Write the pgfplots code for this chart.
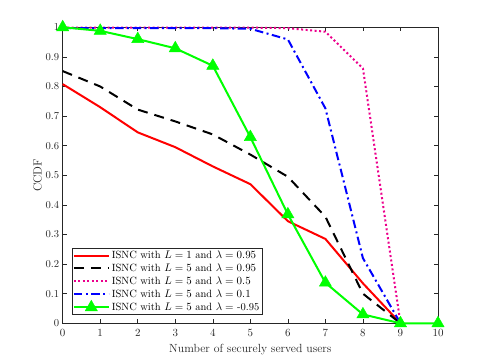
\documentclass[border=0pt]{standalone}
\usepackage{pgfplots}
\pgfplotsset{compat=1.18}
\definecolor{axgray}{rgb}{0.15,0.15,0.15}
\begin{document}
\begin{tikzpicture}[x=1pt,y=1pt]
\path (0,0) rectangle (485,363);
\begin{axis}[
  at={(62.7pt,39.7pt)}, anchor=south west,
  scale only axis, width=375.3pt, height=296pt,
  xmin=0, xmax=10, ymin=0, ymax=1,
  xtick={0,1,...,10}, ytick={0,0.1,...,1},
  yticklabels={0,0.1,0.2,0.3,0.4,0.5,0.6,0.7,0.8,0.9,1},
  tick align=inside, tick pos=both,
  major tick length=4pt,
  axis line style={axgray, line width=0.6pt},
  every tick/.style={axgray, line width=0.6pt},
  tick label style={font=\fontsize{10.6}{12}\selectfont, text=axgray},
  xticklabel style={yshift=-2.5pt},
  xlabel={Number of securely served users},
  ylabel={CCDF},
  label style={font=\fontsize{11.8}{13}\selectfont, text=axgray},
  xlabel style={yshift=-0.5pt},
  ylabel style={yshift=-3pt},
  legend style={at={(0.024,0.028)}, anchor=south west, draw=axgray, line width=0.6pt,
    font=\fontsize{10.5}{12}\selectfont, inner sep=0.8pt, row sep=-0.3pt, cells={anchor=west}},
  legend cell align=left,
  legend image code/.code={\draw[#1] (0pt,0pt) -- (35pt,0pt) plot coordinates {(17.5pt,0pt)};},
  clip=false,
]
\addplot[red, line width=2pt] coordinates {
(0,0.808) (1,0.73) (2,0.645) (3,0.595) (4,0.53) (5,0.47) (6,0.345) (7,0.285) (8,0.135) (9,0)};
\addlegendentry{ISNC with $L=1$ and $\lambda=0.95$}
\addplot[black, line width=2pt, dash pattern=on 10pt off 7pt] coordinates {
(0,0.852) (1,0.80) (2,0.722) (3,0.682) (4,0.638) (5,0.570) (6,0.495) (7,0.36) (8,0.10) (9,0)};
\addlegendentry{ISNC with $L=5$ and $\lambda=0.95$}
\addplot[magenta, line width=2pt, dash pattern=on 2pt off 2.5pt] coordinates {
(0,0.999) (1,0.999) (2,0.999) (3,0.999) (4,0.999) (5,0.999) (6,0.997) (7,0.985) (8,0.861) (9,0)};
\addlegendentry{ISNC with $L=5$ and $\lambda=0.5$}
\addplot[blue, line width=2pt, dash pattern=on 8.5pt off 3.5pt on 2pt off 3.5pt] coordinates {
(0,0.997) (1,0.997) (2,0.997) (3,0.997) (4,0.997) (5,0.995) (6,0.959) (7,0.726) (8,0.22) (9,0)};
\addlegendentry{ISNC with $L=5$ and $\lambda=0.1$}
\addplot[green, line width=2pt, mark=triangle*, mark size=7pt, mark options={solid, fill=green, line width=0.5pt}] coordinates {
(0,1.0) (1,0.988) (2,0.96) (3,0.929) (4,0.87) (5,0.629) (6,0.368) (7,0.137) (8,0.03) (9,0) (10,0)};
\addlegendentry{ISNC with $L=5$ and $\lambda=$ -0.95}
\end{axis}
\end{tikzpicture}
\end{document}
